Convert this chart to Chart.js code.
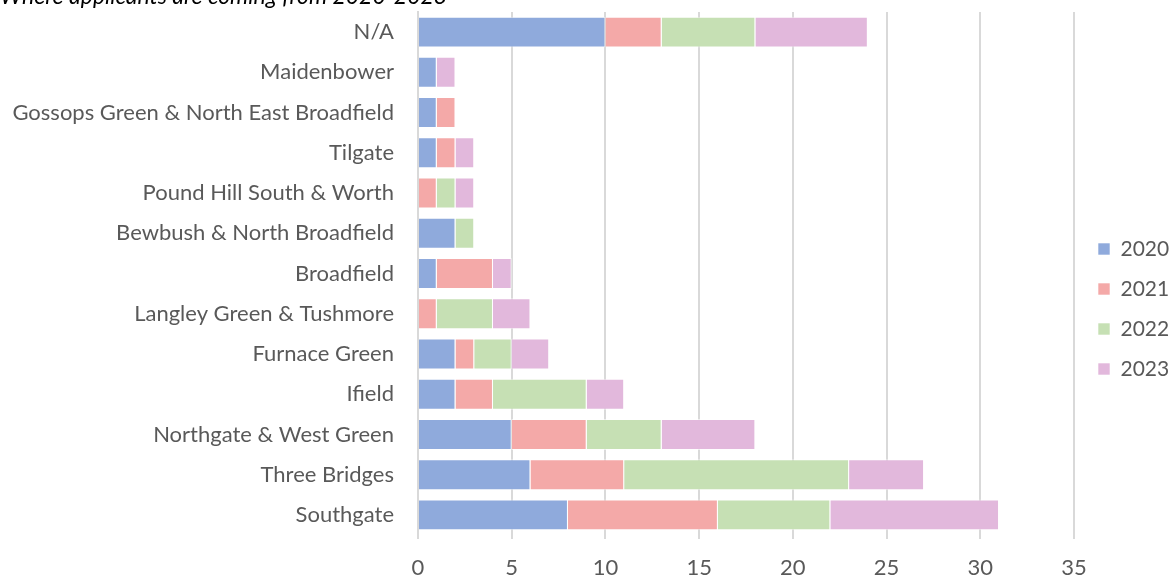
<!DOCTYPE html>
<html><head><meta charset="utf-8">
<script src="https://cdn.jsdelivr.net/npm/chart.js@4"></script>
<style>html,body{margin:0;padding:0;background:#fff}#wrap{width:1170px;height:576px}</style>
</head><body><div id="wrap"><canvas id="c" width="1170" height="576"></canvas></div>
<script>
const titleText = "Where applicants are coming from 2020-2023";
const categories = ["N/A","Maidenbower","Gossops Green & North East Broadfield","Tilgate","Pound Hill South & Worth","Bewbush & North Broadfield","Broadfield","Langley Green & Tushmore","Furnace Green","Ifield","Northgate & West Green","Three Bridges","Southgate"];
const seriesNames = ["2020","2021","2022","2023"];
const v2020 = [10,1,1,1,0,2,1,0,2,2,5,6,8];
const v2021 = [3,0,1,1,1,0,3,1,1,2,4,5,8];
const v2022 = [5,0,0,0,1,1,0,3,2,5,4,12,6];
const v2023 = [6,1,0,1,1,0,1,2,2,2,5,4,9];
const xTicks = [0,5,10,15,20,25,30,35];
const colors = ["#8FAADC","#F4A9A8","#C6E0B4","#E2B8DC"];
const FONT = "Lato, 'Open Sans', sans-serif";

const titlePlugin = {
  id: 'topTitle',
  afterLayout(chart) {
    const lg = chart.legend;
    if (lg) { lg.left += 5; lg.right += 5; lg.top += 15; lg.bottom += 15; }
  },
  afterDraw(chart) {
    const ctx = chart.ctx;
    ctx.save();
    ctx.font = "italic 23px " + FONT;
    ctx.fillStyle = "#000";
    ctx.textBaseline = "alphabetic";
    ctx.textAlign = "left";
    ctx.fillText(titleText, 0, 4);
    ctx.restore();
  }
};

const data = {
  labels: categories,
  datasets: [v2020, v2021, v2022, v2023].map((d, i) => ({
    label: seriesNames[i], data: d, backgroundColor: colors[i],
    borderColor: "rgba(255,255,255,0.6)", borderWidth: 1,
    barPercentage: 0.77, categoryPercentage: 1.0
  }))
};

new Chart(document.getElementById('c'), {
  type: 'bar',
  data,
  plugins: [titlePlugin],
  options: {
    indexAxis: 'y',
    responsive: false,
    animation: false,
    layout: { padding: { top: 12, right: 0, left: 0, bottom: 0 } },
    plugins: {
      legend: {
        position: 'right',
        maxWidth: 96,
        labels: { font: { family: FONT, size: 21 }, color: '#595959', boxWidth: 12, boxHeight: 12, padding: 19 }
      },
      tooltip: { enabled: false }
    },
    scales: {
      x: {
        stacked: true, min: 0, max: 35,
        afterBuildTicks(s) { s.ticks = xTicks.map(v => ({ value: v })); },
        afterFit(s) { s.height = 41; s.paddingLeft = 0; s.paddingRight = 0; },
        grid: { color: '#D9D9D9', lineWidth: 2, drawTicks: true, tickLength: 4 },
        border: { display: false },
        ticks: { font: { family: FONT, size: 22 }, color: '#595959', padding: 16 }
      },
      y: {
        stacked: true,
        afterFit(s) { s.width = 418; s.paddingTop = 0; s.paddingBottom = 0; },
        grid: { display: false, drawTicks: false },
        border: { display: true, color: '#D9D9D9', width: 2 },
        ticks: { font: { family: FONT, size: 22 }, color: '#595959', padding: 24 }
      }
    }
  }
});
</script></body></html>
